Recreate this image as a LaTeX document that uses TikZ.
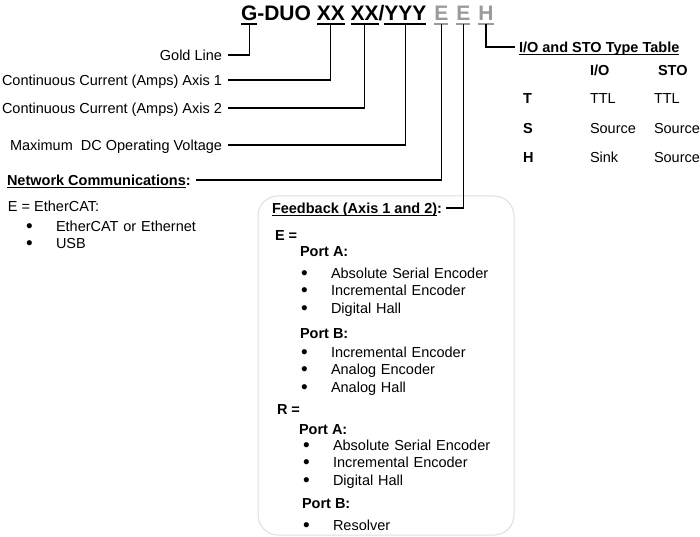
\documentclass[tikz,border=0pt]{standalone}
\usepackage{fontspec}
\setmainfont{Liberation Sans}
\usetikzlibrary{positioning}
\definecolor{codegray}{RGB}{155,155,155}
\definecolor{boxgray}{RGB}{222,222,222}
\newsavebox\ulbox
\newcommand\ulined[1]{\sbox\ulbox{#1}\rlap{\usebox\ulbox}\rule[-2.6pt]{\wd\ulbox}{1.1pt}}
\newcommand\bul[1]{\makebox[30pt][l]{\raisebox{-0.8pt}{\fontsize{19}{19}\selectfont\textbullet}}#1}

\begin{document}
\begin{tikzpicture}[x=1pt,y=-1pt,node distance=7.2pt]
\tikzstyle{lbl}=[inner sep=0pt,outer sep=0pt,text height=10.4pt,text depth=0pt,font=\fontsize{14.5}{17}\selectfont]
\tikzstyle{lblb}=[lbl,font=\fontsize{14.5}{17}\selectfont\bfseries]
\tikzstyle{itm}=[lbl,text width=190pt,align=left]
\tikzstyle{codepart}=[inner sep=0pt,outer sep=0pt,text height=15pt,text depth=3pt,font=\fontsize{21}{25}\selectfont\bfseries]
\tikzstyle{leader}=[line width=1.3pt]
\useasboundingbox (0,0) rectangle (700,537);
\draw[boxgray,line width=1pt,rounded corners=20pt] (258,196) rectangle (514,535);
% part number
\node[codepart,anchor=base west] (g) at (241,21) {G};
\node[codepart,right=0pt of g] (duo) {-DUO};
\node[codepart,right=5.8pt of duo] (xxa) {XX};
\node[codepart,right=5.8pt of xxa] (xxb) {XX};
\node[codepart,right=0pt of xxb] (sl) {/};
\node[codepart,right=0pt of sl] (yyy) {YYY};
\node[codepart,codegray,right=8pt of yyy] (ea) {E};
\node[codepart,codegray,right=8pt of ea] (eb) {E};
\node[codepart,codegray,right=8pt of eb] (h) {H};
\draw[line width=1.8pt] (g.south west) -- (g.south east);
\draw[line width=1.8pt] (xxa.south west) -- (xxa.south east);
\draw[line width=1.8pt] (xxb.south west) -- (xxb.south east);
\draw[line width=1.8pt] (yyy.south west) -- (yyy.south east);
\draw[line width=1.8pt,codegray] (ea.south west) -- (ea.south east);
\draw[line width=1.8pt,codegray] (eb.south west) -- (eb.south east);
\draw[line width=1.8pt,codegray] (h.south west) -- (h.south east);
% left labels
\node[lbl,anchor=east] (goldline) at (222,55) {Gold Line};
\node[lbl,anchor=east] (axisa) at (222,80) {Continuous Current (Amps) Axis 1};
\node[lbl,anchor=east] (axisb) at (222,108) {Continuous Current (Amps) Axis 2};
\node[lbl,anchor=east] (maxv) at (222,145) {Maximum\ \ DC Operating Voltage};
\node[lblb,anchor=west] (netw) at (7,180) {\ulined{Network Communications}:};
\node[lbl,anchor=west] (nete) at (8,206) {E = EtherCAT:};
\node[itm,anchor=west] (neta) at (26,226) {\bul{EtherCAT or Ethernet}};
\node[itm,below=of neta] (netb) {\bul{USB}};
% feedback
\node[lblb,anchor=west] (fb) at (272,208) {\ulined{Feedback (Axis 1 and 2)}:};
\node[lblb,anchor=west] (fbe) at (275,235) {E =};
\node[lblb,anchor=west] (fbea) at (300,251) {Port A:};
\node[itm,anchor=west] (ea1) at (301,273) {\bul{Absolute Serial Encoder}};
\node[itm,below=of ea1] (ea2) {\bul{Incremental Encoder}};
\node[itm,below=of ea2] (ea3) {\bul{Digital Hall}};
\node[lblb,anchor=west] (fbeb) at (300,333) {Port B:};
\node[itm,anchor=west] (eb1) at (301,352) {\bul{Incremental Encoder}};
\node[itm,below=of eb1] (eb2) {\bul{Analog Encoder}};
\node[itm,below=of eb2] (eb3) {\bul{Analog Hall}};
\node[lblb,anchor=west] (fbr) at (277,409) {R =};
\node[lblb,anchor=west] (fbra) at (299,429) {Port A:};
\node[itm,anchor=west] (ra1) at (303,445) {\bul{Absolute Serial Encoder}};
\node[itm,below=of ra1] (ra2) {\bul{Incremental Encoder}};
\node[itm,below=of ra2] (ra3) {\bul{Digital Hall}};
\node[lblb,anchor=west] (fbrb) at (302,503) {Port B:};
\node[itm,anchor=west] (rb1) at (303,525) {\bul{Resolver}};
% type table
\node[lblb,anchor=west] (iotitle) at (519,47) {\ulined{I/O and STO Type Table}};
\node[lblb,anchor=west] (hio) at (590,70) {I/O};
\node[lblb,anchor=west] (hsto) at (658,70) {STO};
\node[lblb,anchor=west] (rt) at (523,98) {T};
\node[lbl,anchor=west] (rtio) at (590,98) {TTL};
\node[lbl,anchor=west] (rtsto) at (654,98) {TTL};
\node[lblb,anchor=west] (rs) at (523,128) {S};
\node[lbl,anchor=west] (rsio) at (590,128) {Source};
\node[lbl,anchor=west] (rssto) at (654,128) {Source};
\node[lblb,anchor=west] (rh) at (523,157) {H};
\node[lbl,anchor=west] (rhio) at (590,157) {Sink};
\node[lbl,anchor=west] (rhsto) at (654,157) {Source};
% leaders
\draw[leader,shorten <=6pt] (goldline.east) -| (g.south);
\draw[leader,shorten <=6pt] (axisa.east) -| (xxa.south);
\draw[leader,shorten <=6pt] (axisb.east) -| (xxb.south);
\draw[leader,shorten <=6pt] (maxv.east) -| (yyy.south);
\draw[leader,shorten <=5pt] (netw.east) -| (ea.south);
\draw[leader,shorten <=4pt] (fb.east) -| (eb.south);
\draw[leader,shorten >=4pt] (h.south) |- (iotitle.west);
\end{tikzpicture}
\end{document}
